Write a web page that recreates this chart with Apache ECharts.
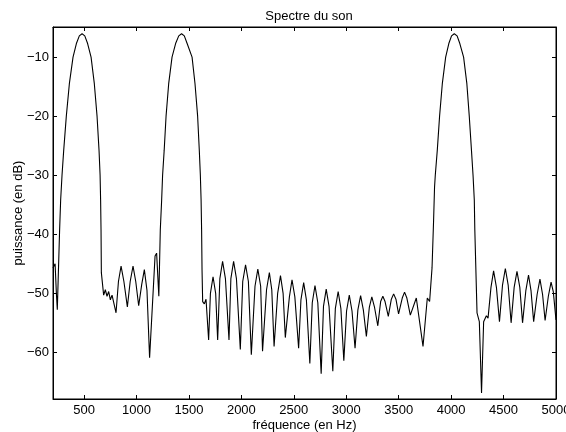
<!DOCTYPE html>
<html>
<head>
<meta charset="utf-8">
<title>Spectre du son</title>
<script src="https://cdn.jsdelivr.net/npm/echarts@6/dist/echarts.min.js"></script>
<style>
    html, body { margin: 0; padding: 0; background: #fff; }
    #spectreCtn { width: 566px; height: 432px; }
</style>
</head>
<body>
<div id="spectreCtn"></div>
<script>
"use strict";
// fréquences (Hz)
var freq = [
    204, 224, 236, 245, 267,
    277, 290, 306, 331, 360, 395, 427, 455, 481, 507, 534, 567, 598, 624, 643, 653, 658, 662, 665,
    687, 703, 719, 735, 751, 767, 805, 828, 853, 880, 913, 940, 967, 993, 1021, 1050, 1075, 1100, 1125, 1177, 1192, 1213, 1227,
    1240, 1249, 1264, 1282, 1307, 1339, 1373, 1403, 1430, 1456, 1483, 1530, 1558, 1583, 1599, 1609, 1616, 1621, 1625,
    1631, 1647, 1663, 1688, 1705, 1730, 1755, 1774, 1795, 1821, 1848, 1882, 1900, 1926, 1953, 1990,
    2013, 2040, 2067, 2095, 2130, 2157, 2184, 2202, 2240, 2267, 2290, 2312, 2346, 2373, 2398, 2419, 2435,
    2458, 2483, 2510, 2546, 2568, 2594, 2620, 2653, 2676, 2702, 2729, 2761, 2783, 2809, 2836, 2872,
    2896, 2923, 2949, 2977, 3003, 3029, 3055, 3084, 3111, 3137, 3163, 3192, 3220, 3244, 3270, 3301,
    3328, 3349, 3370, 3401, 3430, 3452, 3474, 3499, 3534, 3556, 3578, 3611, 3668, 3732, 3773, 3795, 3818, 3833,
    3842, 3849, 3868, 3890, 3916, 3948, 3978, 4004, 4030, 4057, 4083, 4119, 4150, 4173, 4194, 4209, 4221, 4226, 4247,
    4269, 4290, 4310, 4336, 4352, 4380, 4405, 4432, 4461, 4490, 4517, 4544, 4572, 4601, 4628, 4655, 4681,
    4712, 4738, 4762, 4787, 4820, 4847, 4872, 4896, 4927, 4953, 4974, 5000
];
// puissance (dB) pour chaque fréquence
var puissance = [
    -45.7, -45.0, -49.9, -52.8, -39.3,
    -34.2, -30.0, -25.8, -20.0, -14.5, -10.0, -7.7, -6.4, -6.05, -6.4, -7.7, -10.0, -14.5, -20.0, -25.8, -30.0, -34.2, -39.3, -46.5,
    -50.3, -49.4, -50.5, -49.7, -51.1, -50.3, -53.3, -48.0, -45.4, -48.0, -52.3, -48.0, -45.4, -48.0, -52.1, -48.5, -46.0, -49.5, -60.9, -43.7, -43.2, -50.5, -39.3,
    -34.2, -30.0, -25.8, -20.0, -14.5, -10.0, -7.7, -6.4, -6.05, -6.4, -7.7, -10.0, -14.5, -20.0, -25.8, -30.0, -34.2, -39.3, -46.0,
    -51.4, -51.8, -51.0, -57.9, -50.0, -47.2, -50.0, -57.9, -47.5, -44.6, -47.5, -57.9, -47.5, -44.6, -47.5, -59.5,
    -48.0, -45.2, -48.0, -60.4, -48.8, -45.9, -48.8, -59.8, -49.4, -46.5, -49.4, -59.0, -50.0, -47.0, -50.0, -57.5, -57.2,
    -50.6, -47.7, -50.6, -59.3, -51.1, -48.2, -51.1, -61.9, -51.6, -48.7, -51.6, -63.6, -52.2, -49.3, -52.2, -63.2,
    -52.6, -49.7, -52.6, -61.4, -53.0, -50.3, -53.0, -59.3, -52.8, -50.4, -52.8, -57.3, -52.4, -50.6, -52.4, -55.5,
    -51.4, -50.5, -51.4, -53.9, -51.0, -50.1, -51.0, -53.5, -50.8, -49.8, -50.8, -53.7, -50.8, -59.0, -50.8, -51.4, -45.7, -37.6,
    -32.0, -30.0, -25.8, -20.0, -14.5, -10.0, -7.7, -6.4, -6.05, -6.4, -7.7, -10.0, -14.5, -20.0, -25.8, -30.0, -34.2, -39.3, -53.3,
    -54.8, -66.9, -54.8, -53.8, -54.2, -49.0, -46.2, -49.0, -54.8, -48.6, -45.8, -48.6, -55.0, -49.0, -46.3, -49.0, -55.0,
    -49.6, -46.9, -49.6, -54.8, -50.2, -47.6, -50.2, -54.6, -50.5, -48.1, -49.7, -54.5
];
// graduations des axes
var xTicks = [500, 1000, 1500, 2000, 2500, 3000, 3500, 4000, 4500, 5000];
var yTicks = [-60, -50, -40, -30, -20, -10];

spectre_chart('spectreCtn');

function spectre_chart(element) {
    var myChart = echarts.init(document.getElementById(element));
    var police = '"Liberation Sans", Arial, Helvetica, sans-serif';
    var data = [];
    for (var i = 0; i < freq.length; i++) {
        data.push([freq[i], puissance[i]]);
    }
    var noir = { color: '#000', width: 1 };
    var option = {
        backgroundColor: '#fff',
        animation: false,
        title: {
            text: 'Spectre du son',
            left: 304,
            textAlign: 'center',
            top: 5,
            textStyle: { color: '#000', fontSize: 13, fontWeight: 'normal', fontFamily: police }
        },
        grid: {
            left: 53,
            right: 10,
            top: 27,
            bottom: 33,
            outerBoundsMode: 'none',
            containLabel: false,
            show: true,
            borderColor: '#000',
            borderWidth: 1
        },
        xAxis: [{
            type: 'value',
            min: 204,
            max: 5000,
            name: 'fréquence (en Hz)',
            nameLocation: 'middle',
            nameGap: 20,
            nameMoveOverlap: false,
            nameTextStyle: { color: '#000', fontSize: 13, fontFamily: police },
            axisLine: { show: true, lineStyle: noir },
            axisTick: { show: true, inside: true, length: 4, lineStyle: noir, customValues: xTicks },
            axisLabel: {
                color: '#000', fontSize: 13, fontFamily: police, margin: 5,
                customValues: xTicks,
                formatter: function(v) { return String(v); }
            },
            splitLine: { show: false }
        }, {
            // axe du haut (cadre)
            type: 'value',
            position: 'top',
            min: 204,
            max: 5000,
            axisLine: { show: true, lineStyle: noir },
            axisTick: { show: true, inside: true, length: 4, lineStyle: noir, customValues: xTicks },
            axisLabel: { show: false },
            splitLine: { show: false }
        }],
        yAxis: [{
            type: 'value',
            min: -67.9,
            max: -4.9,
            name: 'puissance (en dB)',
            nameLocation: 'middle',
            nameRotate: 90,
            nameGap: 28,
            nameMoveOverlap: false,
            nameTextStyle: { color: '#000', fontSize: 13, fontFamily: police },
            axisLine: { show: true, lineStyle: noir },
            axisTick: { show: true, inside: true, length: 4, lineStyle: noir, customValues: yTicks },
            axisLabel: {
                color: '#000', fontSize: 13, fontFamily: police, margin: 4,
                customValues: yTicks,
                formatter: function(v) {
                    return String(v).replace('-', '\u2212');
                }
            },
            splitLine: { show: false }
        }, {
            // axe de droite (cadre)
            type: 'value',
            position: 'right',
            min: -67.9,
            max: -4.9,
            axisLine: { show: true, lineStyle: noir },
            axisTick: { show: true, inside: true, length: 4, lineStyle: noir, customValues: yTicks },
            axisLabel: { show: false },
            splitLine: { show: false }
        }],
        series: [{
            name: 'spectre',
            type: 'line',
            xAxisIndex: 0,
            yAxisIndex: 0,
            data: data,
            showSymbol: false,
            lineStyle: { color: '#000', width: 1.1 }
        }]
    };
    myChart.setOption(option);
}
</script>
</body>
</html>
